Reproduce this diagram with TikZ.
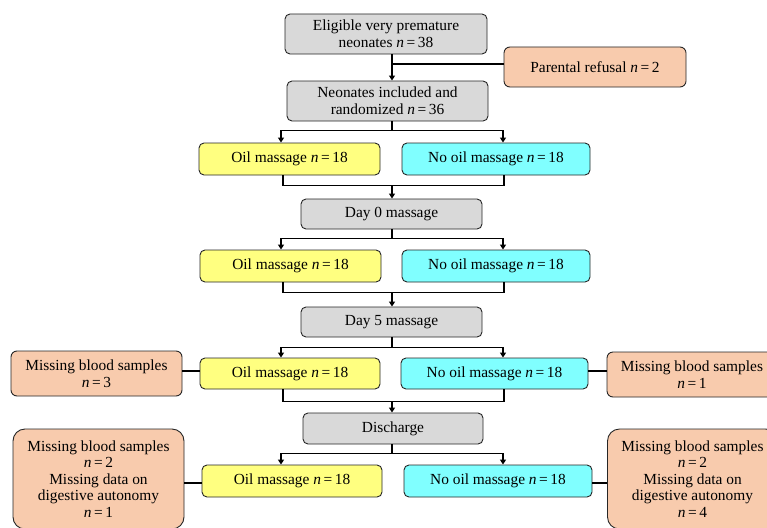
\documentclass[tikz,border=0pt]{standalone}
\usepackage{fontspec}
\setmainfont{Liberation Serif}
\usetikzlibrary{arrows.meta,calc}
\definecolor{gbox}{HTML}{D9D9D9}
\definecolor{ybox}{HTML}{FFFF80}
\definecolor{cbox}{HTML}{80FFFF}
\definecolor{pbox}{HTML}{F8CBAD}
\newcommand{\nn}[1]{\textit{n}\,=\,#1}
\begin{document}
\begin{tikzpicture}[x=1pt,y=-1pt,
  box/.style={draw=black!85, line width=0.9pt, rounded corners=5pt, align=center,
    inner sep=1pt, font=\fontsize{15.4}{16.6}\selectfont},
  gb/.style={box, fill=gbox},
  yb/.style={box, fill=ybox},
  cb/.style={box, fill=cbox},
  pb/.style={box, fill=pbox, rounded corners=6pt},
  conn/.style={line width=1.4pt},
  arr/.style={conn, -{Triangle[length=5pt,width=6pt]}}]
\useasboundingbox (0,0) rectangle (767,527);
\clip (0,0) rectangle (767,527);
\fill[white] (0,0) rectangle (767,527);
% trunk and branch x positions
\coordinate (tx) at (392,0);
\coordinate (lx) at (281,0);
\coordinate (rx) at (503,0);
\coordinate (ml) at (283,0);
\coordinate (mr) at (504,0);
% nodes
\node[gb, minimum width=202pt, minimum height=40pt] (b1) at (386,34) {Eligible very premature\\neonates \nn{38}};
\node[pb, minimum width=182pt, minimum height=40pt] (ref) at (595,67) {Parental refusal \nn{2}};
\node[gb, minimum width=201pt, minimum height=40pt] (b2) at (387.5,101) {Neonates included and\\randomized \nn{36}};
\node[yb, minimum width=181pt, minimum height=32pt] (oil1) at (289.5,159) {Oil massage \nn{18}};
\node[cb, minimum width=188pt, minimum height=32pt] (no1) at (496,159) {No oil massage \nn{18}};
\node[gb, minimum width=181pt, minimum height=30pt] (d0) at (391.5,214) {Day 0 massage};
\node[yb, minimum width=181pt, minimum height=32pt] (oil2) at (290.5,266) {Oil massage \nn{18}};
\node[cb, minimum width=188pt, minimum height=32pt] (no2) at (496,266) {No oil massage \nn{18}};
\node[gb, minimum width=181pt, minimum height=30pt] (d5) at (391.5,322) {Day 5 massage};
\node[yb, minimum width=180pt, minimum height=31pt] (oil3) at (290,373.5) {Oil massage \nn{18}};
\node[cb, minimum width=187pt, minimum height=31pt] (no3) at (494.5,373.5) {No oil massage \nn{18}};
\node[pb, minimum width=171pt, minimum height=45pt] (m3l) at (96.5,373.5) {Missing blood samples\\\nn{3}};
\node[pb, minimum width=170pt, minimum height=45pt] (m3r) at (692,374.5) {Missing blood samples\\\nn{1}};
\node[gb, minimum width=180pt, minimum height=31pt] (dis) at (393,428.5) {Discharge};
\node[yb, minimum width=180pt, minimum height=32pt] (oil4) at (292,481) {Oil massage \nn{18}};
\node[cb, minimum width=188pt, minimum height=32pt] (no4) at (498,481) {No oil massage \nn{18}};
\node[pb, minimum width=171pt, minimum height=100pt, rounded corners=12pt] (m4l) at (98.5,479) {Missing blood samples\\\nn{2}\\Missing data on\\digestive autonomy\\\nn{1}};
\node[pb, minimum width=170pt, minimum height=100pt, rounded corners=12pt] (m4r) at (692.5,479) {Missing blood samples\\\nn{2}\\Missing data on\\digestive autonomy\\\nn{4}};
% connectors: top
\draw[arr] (b1.south -| tx) -- (b2.north -| tx);
\draw[conn] (ref.west |- 0,64) -- (tx |- 0,64);
% split / merge 1
\path (b2.south) ++(0,9) coordinate (s1);
\draw[conn] (b2.south -| tx) -- (s1 -| tx);
\draw[arr] (s1 -| tx) -| (oil1.north -| lx);
\draw[arr] (s1 -| tx) -| (no1.north -| rx);
\path (oil1.south) ++(0,10) coordinate (j1);
\draw[conn] (oil1.south -| ml) |- (j1 -| mr) -- (no1.south -| mr);
\draw[arr] (j1 -| tx) -- (d0.north -| tx);
% split / merge 2
\path (d0.south) ++(0,9) coordinate (s2);
\draw[conn] (d0.south -| tx) -- (s2 -| tx);
\draw[arr] (s2 -| tx) -| (oil2.north -| lx);
\draw[arr] (s2 -| tx) -| (no2.north -| rx);
\path (oil2.south) ++(0,10) coordinate (j2);
\draw[conn] (oil2.south -| ml) |- (j2 -| mr) -- (no2.south -| mr);
\draw[arr] (j2 -| tx) -- (d5.north -| tx);
% split / merge 3
\path (d5.south) ++(0,10) coordinate (s3);
\draw[conn] (d5.south -| tx) -- (s3 -| tx);
\draw[arr] (s3 -| tx) -| (oil3.north -| lx);
\draw[arr] (s3 -| tx) -| (no3.north -| rx);
\path (oil3.south) ++(0,12) coordinate (j3);
\draw[conn] (oil3.south -| ml) |- (j3 -| mr) -- (no3.south -| mr);
\draw[arr] (j3 -| tx) -- (dis.north -| tx);
\draw[conn] (m3l.east |- 0,371) -- (oil3.west |- 0,371);
\draw[conn] (no3.east |- 0,371) -- (m3r.west |- 0,371);
% split 4
\path (dis.south) ++(0,9) coordinate (s4);
\draw[conn] (dis.south -| tx) -- (s4 -| tx);
\draw[arr] (s4 -| tx) -| (oil4.north -| lx);
\draw[arr] (s4 -| tx) -| (no4.north -| rx);
\draw[conn] (m4l.east |- 0,483) -- (oil4.west |- 0,483);
\draw[conn] (no4.east |- 0,483) -- (m4r.west |- 0,483);
\end{tikzpicture}
\end{document}
